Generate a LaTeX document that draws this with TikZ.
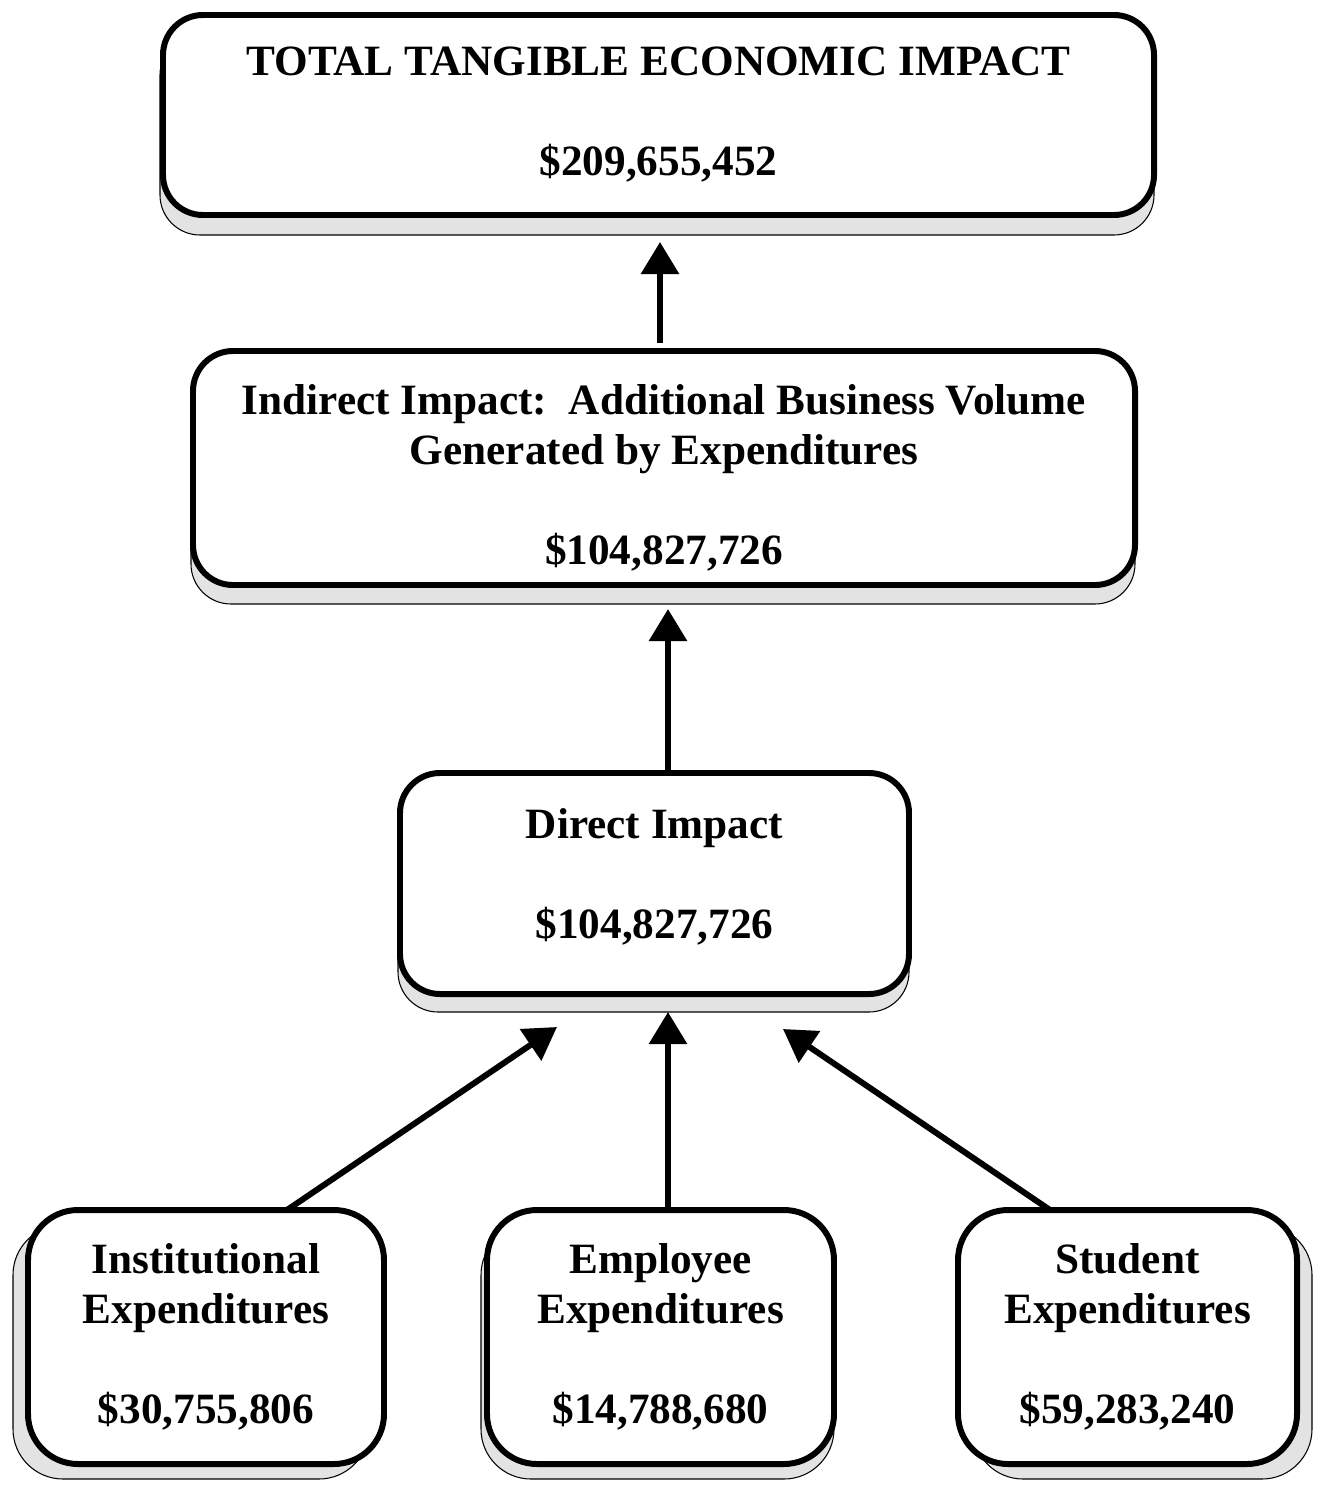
\documentclass[tikz,border=0pt]{standalone}
\usepackage{fontspec}
\setmainfont{Liberation Serif}
\usepackage{tikz}
\usetikzlibrary{positioning,arrows.meta,backgrounds}

\begin{document}
\begin{tikzpicture}[
                   box/.style={draw, line width=3.4pt, rounded corners=0.8cm, fill=white,
                               outer sep=0pt, align=center,
                               font=\fontsize{24.6}{28.45}\selectfont\bfseries},
                   backshadow/.style={draw, line width=0.6pt, fill=gray!22, rounded corners=0.8cm},
                   uparr/.style={line width=3.4pt, -{Triangle[width=0.74cm,length=0.64cm]}}]
    \useasboundingbox (0,0) rectangle (26.36,-29.7);
    \node[box, minimum width=19.82cm, minimum height=4.0cm] (total) at (13.17,-2.3)
        {TOTAL TANGIBLE ECONOMIC IMPACT\\[1cm]\$209,655,452};
    \node[box, minimum width=18.84cm, minimum height=4.68cm] (indirect) at (13.28,-9.36)
        {\rule{0pt}{28pt}Indirect Impact:\ \ Additional Business Volume\\Generated by Expenditures\\[1cm]\$104,827,726};
    \node[box, minimum width=10.18cm, minimum height=4.42cm] (direct) at (13.09,-17.67)
        {Direct Impact\\[1cm]\$104,827,726\rule[-11pt]{0pt}{0pt}};
    \node[box, minimum width=7.12cm, minimum height=5.08cm, rounded corners=1cm] (inst) at (4.12,-26.74)
        {Institutional\\Expenditures\\[1cm]\$30,755,806};
    \node[box, minimum width=6.94cm, minimum height=5.08cm, rounded corners=1cm] (empl) at (13.21,-26.74)
        {Employee\\Expenditures\\[1cm]\$14,788,680};
    \node[box, minimum width=6.78cm, minimum height=5.08cm, rounded corners=1cm] (stud) at (22.55,-26.74)
        {Student\\Expenditures\\[1cm]\$59,283,240};
    % shadows
    \begin{scope}[on background layer]
        \draw[backshadow] ([xshift=-0.06cm,yshift=-0.4cm]total.south west) rectangle ([yshift=-0.4cm]total.north east);
        \draw[backshadow] ([xshift=-0.04cm,yshift=-0.38cm]indirect.south west) rectangle ([yshift=-0.38cm]indirect.north east);
        \draw[backshadow] ([xshift=-0.04cm,yshift=-0.36cm]direct.south west) rectangle ([yshift=-0.36cm]direct.north east);
        \draw[backshadow, rounded corners=1cm] ([xshift=-0.3cm,yshift=-0.3cm]inst.south west) rectangle ([xshift=-0.3cm,yshift=-0.3cm]inst.north east);
        \draw[backshadow, rounded corners=1cm] ([xshift=-0.12cm,yshift=-0.3cm]empl.south west) rectangle ([yshift=-0.3cm]empl.north east);
        \draw[backshadow, rounded corners=1cm] ([xshift=0.3cm,yshift=-0.3cm]stud.south west) rectangle ([xshift=0.3cm,yshift=-0.3cm]stud.north east);
    \end{scope}
    \draw[uparr] ([xshift=-0.08cm,yshift=0.16cm]indirect.north) -- ([xshift=0.03cm,yshift=-0.54cm]total.south);
    \draw[uparr] ([xshift=0.27cm]direct.north) -- ([xshift=0.08cm,yshift=-0.48cm]indirect.south);
    \draw[uparr] ([xshift=1.62cm]inst.north) -- ([xshift=-1.95cm,yshift=-0.66cm]direct.south);
    \draw[uparr] ([xshift=0.15cm]empl.north) -- ([xshift=0.27cm,yshift=-0.36cm]direct.south);
    \draw[uparr] ([xshift=-1.55cm]stud.north) -- ([xshift=2.57cm,yshift=-0.7cm]direct.south);
\end{tikzpicture}
\end{document}
